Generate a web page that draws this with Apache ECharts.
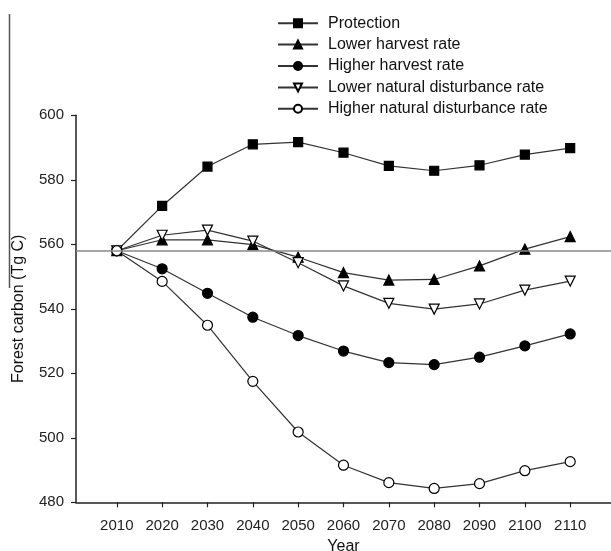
<!DOCTYPE html>
<html>
<head>
<meta charset="utf-8">
<script src="https://cdn.jsdelivr.net/npm/echarts@6/dist/echarts.min.js"></script>
<style>html,body{margin:0;padding:0;background:#fff;}#c{width:611px;height:551px;}</style>
</head>
<body>
<div id="c"></div>
<script>
var years = [2010, 2020, 2030, 2040, 2050, 2060, 2070, 2080, 2090, 2100, 2110];
var protection = [558, 571.9, 584.1, 591.0, 591.7, 588.4, 584.3, 582.8, 584.5, 587.8, 589.8];
var lowerHarvest = [558, 561.4, 561.4, 559.9, 556.0, 551.2, 548.9, 549.1, 553.3, 558.5, 562.4];
var higherHarvest = [558, 552.4, 544.8, 537.4, 531.7, 526.9, 523.3, 522.7, 525.0, 528.5, 532.2];
var lowerDisturb = [558, 562.8, 564.4, 561.0, 554.3, 547.1, 541.7, 539.9, 541.5, 545.8, 548.6];
var higherDisturb = [558, 548.5, 534.9, 517.5, 501.8, 491.5, 486.1, 484.3, 485.8, 489.8, 492.6];
var baseline = 558;
var yTicks = [480, 500, 520, 540, 560, 580, 600];

function pairs(v) { return years.map(function (y, i) { return [y, v[i]]; }); }

var lineCol = '#333';
function mk(name, data, symbol, size, fill, rotate) {
  return {
    name: name, type: 'line', data: pairs(data), z: 3,
    symbol: symbol, symbolSize: size, symbolRotate: rotate || 0, showAllSymbol: true,
    lineStyle: { color: lineCol, width: 1.2 },
    itemStyle: { color: fill, borderColor: '#000', borderWidth: 1.2 },
    emphasis: { disabled: true }, animation: false
  };
}

var chart = echarts.init(document.getElementById('c'), null, { renderer: 'canvas' });
chart.setOption({
  backgroundColor: '#fff',
  animation: false,
  grid: { left: 76, right: 0, top: 115.3, bottom: 48.7, containLabel: false, outerBoundsMode: 'none' },
  legend: {
    orient: 'vertical', left: 277, top: 12.5, padding: 0,
    itemWidth: 40, itemHeight: 10, itemGap: 0,
    textStyle: { fontFamily: 'Liberation Sans, Arial', fontSize: 16, color: '#111', lineHeight: 21.4, padding: [0, 0, 0, 5] },
    data: ['Protection', 'Lower harvest rate', 'Higher harvest rate', 'Lower natural disturbance rate', 'Higher natural disturbance rate']
  },
  xAxis: {
    type: 'value', min: 2001, max: 2119,
    name: 'Year', nameLocation: 'middle', nameGap: 35,
    nameTextStyle: { fontFamily: 'Liberation Sans, Arial', fontSize: 16, color: '#111' },
    axisLine: { show: true, lineStyle: { color: '#222', width: 1.5 } },
    axisTick: { show: true, length: 5, customValues: years, lineStyle: { color: '#222', width: 1.2 } },
    axisLabel: { customValues: years, formatter: function (v) { return String(v); }, fontFamily: 'Liberation Sans, Arial', fontSize: 15, color: '#222', margin: 16 },
    splitLine: { show: false }
  },
  yAxis: {
    type: 'value', min: 480, max: 600, interval: 20,
    name: 'Forest carbon (Tg C)', nameLocation: 'middle', nameGap: 49,
    nameTextStyle: { fontFamily: 'Liberation Sans, Arial', fontSize: 16, color: '#111' },
    axisLine: { show: true, lineStyle: { color: '#222', width: 1.5 } },
    axisTick: { show: true, length: 5, customValues: yTicks, lineStyle: { color: '#222', width: 1.2 } },
    axisLabel: { customValues: yTicks, fontFamily: 'Liberation Sans, Arial', fontSize: 15, color: '#222', margin: 12 },
    splitLine: { show: false }
  },
  graphic: [{
    type: 'line', shape: { x1: 9.5, y1: 14, x2: 9.5, y2: 288 },
    style: { stroke: '#555', lineWidth: 1.5 }, z: 0
  }],
  series: [
    {
      type: 'line', data: [], z: 1, silent: true,
      markLine: {
        silent: true, symbol: ['none', 'none'], label: { show: false },
        lineStyle: { color: '#888', width: 1.5, type: 'solid' },
        data: [{ yAxis: baseline }], animation: false
      }
    },
    mk('Protection', protection, 'rect', 9, '#000'),
    mk('Lower harvest rate', lowerHarvest, 'triangle', 10, '#000'),
    mk('Higher harvest rate', higherHarvest, 'circle', 10, '#000'),
    mk('Lower natural disturbance rate', lowerDisturb, 'triangle', 10, '#fff', 180),
    mk('Higher natural disturbance rate', higherDisturb, 'circle', 10, '#fff')
  ]
});
</script>
</body>
</html>
